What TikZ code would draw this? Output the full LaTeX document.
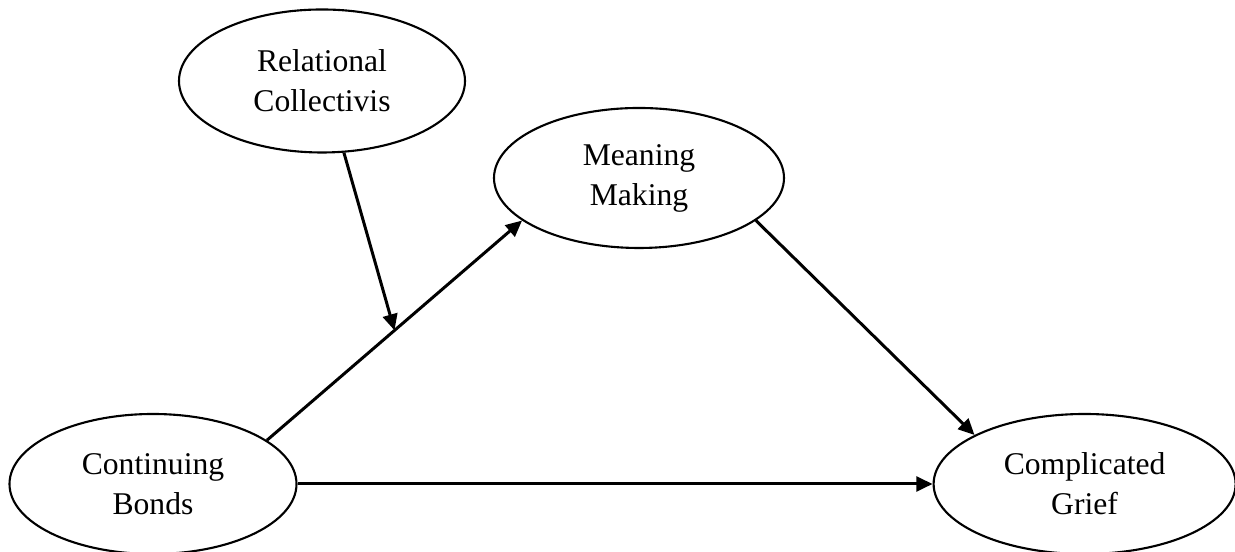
\documentclass[tikz,border=0pt]{standalone}
\usepackage{fontspec}
\setmainfont{Liberation Serif}
\usetikzlibrary{arrows.meta,shapes.geometric,positioning}

\begin{document}
\begin{tikzpicture}[auto,semithick]
	  \tikzstyle{construct}=[ellipse,draw=black,line width=0.6pt,fill=white,text=black,align=center,inner sep=0pt,minimum width=2.87cm,minimum height=1.4cm,font=\fontsize{9}{11.4}\selectfont]
	  \tikzstyle{path}=[-{Triangle[length=4.6pt,width=4.2pt]},line width=0.85pt]

	  \useasboundingbox (0,0) rectangle (12.35,5.52);

	  \node[construct] (CB) at (1.53,0.68) {Continuing\\Bonds};
	  \node[construct,minimum width=3.02cm] (CG) [right=6.35cm of CB] {Complicated\\Grief};
	  \node[construct,minimum width=2.9cm] (MM) at (6.39,3.74) {Meaning\\Making};
	  \node[construct,minimum width=2.86cm,minimum height=1.43cm] (RC) at (3.22,4.71) {Relational\\Collectivis};

	  \path[path] (CB.21) edge node[coordinate] (mid) {} (MM.200)
	  (MM.-20) edge (CG.156)
	  (CB) edge (CG)
	  (RC.-73) edge (mid);
	\end{tikzpicture}
\end{document}
